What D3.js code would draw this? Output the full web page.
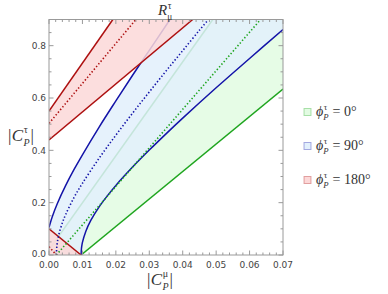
<!DOCTYPE html>
<html><head><meta charset="utf-8">
<script src="https://cdn.jsdelivr.net/npm/d3@7"></script>
<style>body{margin:0;background:#fff}svg{display:block}</style>
</head><body>
<svg id="c" width="388" height="294"></svg>
<script>
// ---- data ----
const xTicks = [0, 0.01, 0.02, 0.03, 0.04, 0.05, 0.06, 0.07];
const yTicks = [0, 0.2, 0.4, 0.6, 0.8];
const phaseLabels = ["0°", "90°", "180°"];

// phi = 0 (green)
const greenLower   = [[0.0096, 0], [0.07, 0.634]];
const greenCentral = [[0.0022, 0], [0.0633, 0.9]];
const greenUpper   = [[0, 0.02], [0.049, 0.9]];
// phi = 90 (blue)
const blueLower = [[0.0096,0],[0.0097,0.024],[0.0098,0.034],[0.010,0.048],[0.011,0.090],[0.0125,0.132],[0.015,0.184],[0.0175,0.227],[0.02,0.266],[0.025,0.336],[0.03,0.401],[0.035,0.463],[0.04,0.523],[0.05,0.639],[0.06,0.751],[0.07,0.862]];
const blueCentral = [[0.0022,0],[0.0023,0.025],[0.0025,0.049],[0.003,0.081],[0.004,0.123],[0.005,0.155],[0.0075,0.220],[0.01,0.274],[0.015,0.370],[0.02,0.458],[0.025,0.542],[0.03,0.623],[0.035,0.703],[0.04,0.781],[0.045,0.859],[0.0475,0.897]];
const blueUpper = [[0,0.105],[0.001,0.147],[0.0025,0.197],[0.005,0.266],[0.0075,0.327],[0.01,0.383],[0.015,0.489],[0.02,0.589],[0.025,0.687],[0.03,0.782],[0.0362,0.9]];
// phi = 180 (red)
const redUpper    = [[0, 0.55], [0.0191, 0.9]];
const redCentral  = [[0, 0.503], [0.026, 0.9]];
const redLower    = [[0, 0.44], [0.043, 0.9]];
const redDesc     = [[0, 0.1], [0.0096, 0]];
const redDescCent = [[0, 0.032], [0.0022, 0]];

// ---- layout ----
const svg = d3.select("#c");
const L = 49, R = 283, T = 19.5, B = 255;
const x = d3.scaleLinear().domain([0, 0.07]).range([L, R]);
const y = d3.scaleLinear().domain([0, 0.9]).range([B, T]);

const col = {
  g: {line: "#1fa51f", fill: "rgb(226,251,226)"},
  b: {line: "#1414a8", fill: "rgb(226,240,252)"},
  r: {line: "#ad1010", fill: "rgb(252,216,216)"}
};
const FO = 0.85;

svg.append("defs").append("clipPath").attr("id", "clip")
  .append("rect").attr("x", L).attr("y", T).attr("width", R - L).attr("height", B - T);
const g = svg.append("g").attr("clip-path", "url(#clip)");

const lineC = d3.line().x(d => x(d[0])).y(d => y(d[1])).curve(d3.curveCatmullRom.alpha(0.5));
const lineL = d3.line().x(d => x(d[0])).y(d => y(d[1]));
function join(parts) {
  return parts.map((p, i) => i === 0 ? p : p.replace(/^M/, "L")).join("") + "Z";
}
function fill(d, c) { g.append("path").attr("d", d).attr("fill", c).attr("fill-opacity", FO).attr("stroke", "none"); }
function solid(pts, c, curve) { g.append("path").attr("d", (curve ? lineC : lineL)(pts)).attr("fill", "none").attr("stroke", c).attr("stroke-width", 1.5); }
function dotted(pts, c, curve) { g.append("path").attr("d", (curve ? lineC : lineL)(pts)).attr("fill", "none").attr("stroke", c).attr("stroke-width", 1.6).attr("stroke-dasharray", "1.4,2.1"); }

// green region
fill(lineL([[0,0],[0,greenUpper[0][1]],greenUpper[1],[0.07,0.9],greenLower[1],greenLower[0]]) + "Z", col.g.fill);
solid(greenLower, col.g.line);
solid(greenUpper, col.g.line);
// blue region
fill(join([lineC(blueUpper), lineL([[0.0362,0.9],[0.07,0.9]]), lineC(blueLower.slice().reverse()), lineL([[0.0096,0],[0,0]])]), col.b.fill);
solid(blueLower, col.b.line, true);
solid(blueUpper, col.b.line, true);
// red region
fill(lineL([redUpper[0], redUpper[1], redLower[1], redLower[0]]) + "Z", col.r.fill);
fill(lineL([[0,0], redDesc[0], redDesc[1]]) + "Z", col.r.fill);
solid(redUpper, col.r.line);
solid(redLower, col.r.line);
solid(redDesc, col.r.line);
// central values
dotted(greenCentral, col.g.line);
dotted(blueCentral, col.b.line, true);
dotted(redCentral, col.r.line);
dotted(redDescCent, col.r.line);

// ---- frame & ticks ----
const fr = svg.append("g").attr("stroke", "#9a9a9a").attr("stroke-width", 1).attr("fill", "none");
fr.append("rect").attr("x", L).attr("y", T).attr("width", R - L).attr("height", B - T);
const xMinor = d3.range(0, 0.0701, 0.002);
const yMinor = d3.range(0, 0.901, 0.05);
xMinor.forEach(v => {
  const isMaj = xTicks.some(t => Math.abs(t - v) < 1e-6);
  const len = isMaj ? 4.5 : 2.5;
  fr.append("line").attr("x1", x(v)).attr("x2", x(v)).attr("y1", B).attr("y2", B - len);
  fr.append("line").attr("x1", x(v)).attr("x2", x(v)).attr("y1", T).attr("y2", T + len);
});
yMinor.forEach(v => {
  const isMaj = yTicks.some(t => Math.abs(t - v) < 1e-6);
  const len = isMaj ? 4.5 : 2.5;
  fr.append("line").attr("y1", y(v)).attr("y2", y(v)).attr("x1", L).attr("x2", L + len);
  fr.append("line").attr("y1", y(v)).attr("y2", y(v)).attr("x1", R).attr("x2", R - len);
});

const tf = "'DejaVu Sans', sans-serif";
svg.append("g").selectAll("text").data(xTicks).join("text")
  .attr("x", d => x(d)).attr("y", B + 13).attr("text-anchor", "middle")
  .attr("font-family", tf).attr("font-size", 9).attr("fill", "#444")
  .text(d => d.toFixed(2));
svg.append("g").selectAll("text").data(yTicks).join("text")
  .attr("x", L - 3).attr("y", d => y(d) + (d === 0 ? 2 : 3.3)).attr("text-anchor", "end")
  .attr("font-family", tf).attr("font-size", 9).attr("fill", "#444")
  .text(d => d.toFixed(1));

// ---- math labels (separate text pieces so nothing overlaps) ----
const mf = "'Liberation Serif', 'DejaVu Serif', serif";
function piece(xp, yp, txt, size, italic, parent) {
  const t = (parent || svg).append("text").attr("x", xp).attr("y", yp).attr("font-family", mf)
    .attr("font-size", size).attr("fill", "#333").attr("font-style", italic ? "italic" : "normal").text(txt);
  return xp + t.node().getComputedTextLength();
}
function mathLabel(xp, yp, main, mainItalic, sup, sub, subItalic, tail, size) {
  const sm = size * 0.62;
  let xe = piece(xp, yp, main, size, mainItalic);
  const x1 = piece(xe + 0.5, yp - size * 0.42, sup, sm, false);
  const x2 = piece(xe, yp + size * 0.3, sub, sm, subItalic);
  if (tail) piece(Math.max(x1, x2) + 4, yp, tail, size, false);
}
function cLabel(cx, yp, sup) {
  const grp = svg.append("g");
  const xe = piece(0, yp, "|", 17, false, grp);
  const xc = piece(xe + 0.5, yp, "C", 17, true, grp);
  const a = piece(xc + 0.5, yp - 8, sup, 10, false, grp);
  const b = piece(xc + 0.3, yp + 5, "P", 10, true, grp);
  const end = piece(Math.max(a, b) + 1, yp, "|", 17, false, grp);
  grp.attr("transform", `translate(${cx - end / 2},0)`);
}
cLabel(160, 285, "μ");
cLabel(21, 141, "τ");
mathLabel(158, 15, "R", true, "τ", "μ", false, null, 15);

// ---- legend ----
const legCols = [col.g, col.b, col.r];
const legY = [112, 146, 180];
phaseLabels.forEach((lab, i) => {
  svg.append("rect").attr("x", 304).attr("y", legY[i] - 3.5).attr("width", 7).attr("height", 7)
    .attr("fill", legCols[i].fill).attr("stroke", legCols[i].line).attr("stroke-opacity", 0.35).attr("stroke-width", 1);
  mathLabel(316, legY[i] + 4, "ϕ", true, "τ", "P", true, "= " + lab, 14);
});
</script>
</body></html>
